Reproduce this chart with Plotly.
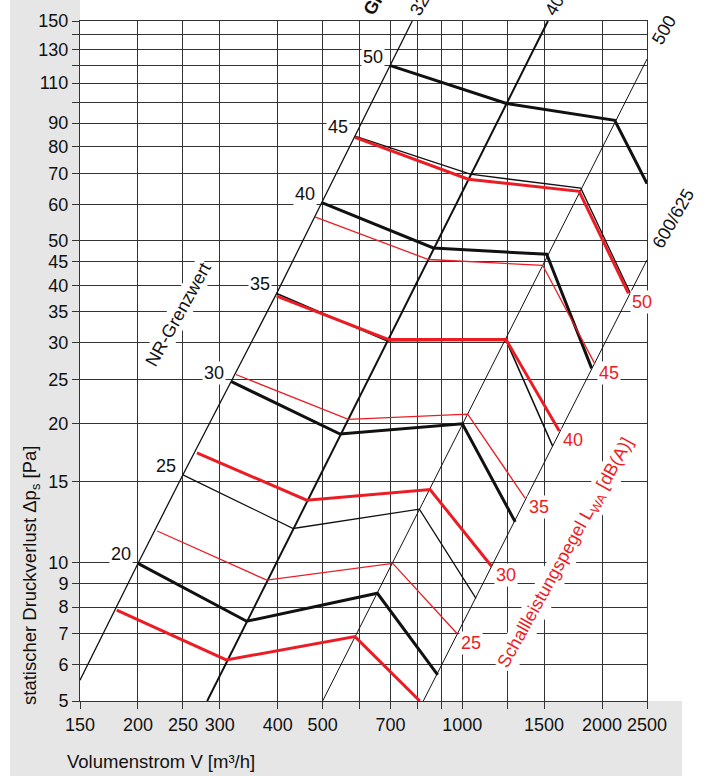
import numpy as np
import plotly.graph_objects as go

# ---------------- data ----------------
# labelled ticks and extra (unlabelled) grid lines
X_TICKS = [150, 200, 250, 300, 400, 500, 700, 1000, 1500, 2000, 2500]
X_MINOR = [600, 800, 900, 1250]
Y_TICKS = [5, 6, 7, 8, 9, 10, 15, 20, 25, 30, 35, 40, 45, 50, 60, 70, 80, 90,
           110, 130, 150]
Y_MINOR = [100, 120, 140]

# NR limit line (volume flow m³/h, pressure Pa)
nr_v = [150, 200, 250, 318, 398, 498, 587, 700, 780]
nr_p = [5.55, 9.95, 15.5, 24.7, 38.4, 60.5, 84.3, 120, 150]

# size lines
size_400_v = [282, 1529]
size_400_p = [5, 150]
size_500_v = [500, 2500]
size_500_p = [5, 124]
size_600_v = [824, 2500]
size_600_p = [5, 45.4]

# black curves, keyed by the NR level written at their start
black_levels = [20, 25, 30, 35, 40, 45, 50]
black_v = [
    [200, 343, 656, 885],
    [250, 432, 808, 1070],
    [318, 545, 1000, 1300],
    [398, 687, 1242, 1565],
    [498, 866, 1520, 1900],
    [587, 1040, 1800, 2300],
    [700, 1245, 2130, 2500],
]
black_p = [
    [9.95, 7.45, 8.57, 5.7],
    [15.5, 11.85, 13.05, 8.35],
    [24.7, 19.0, 20.0, 12.25],
    [38.4, 30.3, 30.4, 17.9],
    [60.5, 48.2, 46.7, 26.4],
    [84.3, 69.7, 65.0, 38.5],
    [120, 99.3, 91.3, 66.5],
]
black_width = [3.0, 1.3, 3.0, 1.6, 3.0, 1.3, 3.0]

# red curves, keyed by the sound power level written at their end
red_levels = [None, 25, 30, 35, 40, 45, 50]
red_v = [
    [180, 310, 587, 810],
    [220, 379, 708, 975],
    [268, 462, 852, 1157],
    [325, 568, 1027, 1365],
    [398, 692, 1242, 1618],
    [481, 845, 1490, 1930],
    [587, 1030, 1785, 2280],
]
red_p = [
    [7.88, 6.14, 6.9, 5.0],
    [11.7, 9.15, 9.95, 7.0],
    [17.3, 13.65, 14.4, 9.8],
    [25.6, 20.45, 21.0, 13.8],
    [37.9, 30.5, 30.5, 19.3],
    [56.3, 45.5, 44.2, 27.0],
    [83.8, 68.0, 64.0, 38.4],
]
red_width = [3.0, 1.3, 3.0, 1.3, 3.0, 1.3, 3.0]

# ---------------- styling ----------------
FIG_W, FIG_H = 703, 776
M_L, M_R, M_T, M_B = 80, 56, 21, 75
PLOT_W = FIG_W - M_L - M_R
PLOT_H = FIG_H - M_T - M_B
FONT = "Liberation Sans, Arial, Helvetica, sans-serif"
RED = "#ec1c24"
INK = "#111111"
GRID = "#333333"
FS = 18
FS_TITLE = 18.5


def px_x(px):
    return (px - M_L) / PLOT_W


def px_y(py):
    return (FIG_H - M_B - py) / PLOT_H


fig = go.Figure()


def add_line(v, p, color, width):
    fig.add_trace(go.Scatter(x=v, y=p, mode="lines",
                             line=dict(color=color, width=width),
                             hoverinfo="skip", showlegend=False))


# diagonal reference lines
add_line(nr_v, nr_p, INK, 1.3)
add_line(size_400_v, size_400_p, INK, 2.0)
add_line(size_500_v, size_500_p, INK, 1.0)
add_line(size_600_v, size_600_p, INK, 1.0)

for v, p, w in zip(black_v, black_p, black_width):
    add_line(v, p, INK, w)
for v, p, w in zip(red_v, red_p, red_width):
    add_line(v, p, RED, w)

annotations = []

# level numbers along the NR line
for lvl, v, p in zip(black_levels, black_v, black_p):
    annotations.append(dict(x=np.log10(v[0]), y=np.log10(p[0]), xref="x", yref="y",
                            text=str(lvl), showarrow=False, xanchor="right",
                            yanchor="middle", xshift=-5, yshift=9,
                            bgcolor="white", borderpad=1,
                            font=dict(size=FS, color=INK, family=FONT)))

# sound power levels at the ends of the red curves
for lvl, v, p in zip(red_levels, red_v, red_p):
    if lvl is None:
        continue
    annotations.append(dict(x=np.log10(v[-1]), y=np.log10(p[-1]), xref="x", yref="y",
                            text=str(lvl), showarrow=False, xanchor="left",
                            yanchor="middle", xshift=2, yshift=-9,
                            bgcolor="white", borderpad=1,
                            font=dict(size=FS, color=RED, family=FONT)))

# size labels at the upper ends of the diagonals
size_labels = [
    ("<b>Größe</b>", 381, -9),
    ("320", 422, 1),
    ("400", 557, 1),
    ("500", 664, 30),
    ("600/625", 673, 219),
]
for txt, cx, cy in size_labels:
    annotations.append(dict(x=px_x(cx), y=px_y(cy), xref="paper", yref="paper",
                            text=txt, showarrow=False, textangle=-60,
                            xanchor="center", yanchor="middle",
                            font=dict(size=FS, color=INK, family=FONT)))

annotations.append(dict(x=px_x(178), y=px_y(315), xref="paper", yref="paper",
                        text="NR-Grenzwert", showarrow=False, textangle=-61,
                        xanchor="center", yanchor="middle", bgcolor="white",
                        font=dict(size=FS, color=INK, family=FONT)))

annotations.append(dict(x=px_x(566), y=px_y(553), xref="paper", yref="paper",
                        text="Schallleistungspegel L<sub>WA</sub> [dB(A)]",
                        showarrow=False, textangle=-61,
                        xanchor="center", yanchor="middle", bgcolor="white",
                        font=dict(size=FS, color=RED, family=FONT)))

# axis titles
annotations.append(dict(x=px_x(65), y=px_y(762), xref="paper", yref="paper",
                        text="Volumenstrom V [m³/h]", showarrow=False,
                        xanchor="left", yanchor="middle",
                        font=dict(size=FS_TITLE, color=INK, family=FONT)))
annotations.append(dict(x=px_x(31), y=px_y(576), xref="paper", yref="paper",
                        text="statischer Druckverlust Δp<sub>s</sub> [Pa]",
                        showarrow=False, textangle=-90,
                        xanchor="center", yanchor="middle",
                        font=dict(size=FS_TITLE, color=INK, family=FONT)))

# grey frame behind the tick labels
shapes = [
    dict(type="rect", xref="paper", yref="paper", layer="below",
         x0=px_x(10), x1=0, y0=px_y(FIG_H), y1=px_y(0),
         fillcolor="#e6e6e6", line=dict(width=0)),
    dict(type="rect", xref="paper", yref="paper", layer="below",
         x0=px_x(10), x1=px_x(682), y0=px_y(FIG_H), y1=0,
         fillcolor="#e6e6e6", line=dict(width=0)),
]

axis_common = dict(type="log", tickmode="array", ticks="outside", ticklen=7,
                   tickwidth=1, tickcolor=GRID, showgrid=True, gridcolor=GRID,
                   gridwidth=1, showline=True, linecolor=GRID, linewidth=1,
                   mirror=True, zeroline=False,
                   tickfont=dict(size=FS, color=INK, family=FONT))
minor_common = dict(ticks="outside", ticklen=7, tickwidth=1, tickcolor=GRID,
                    showgrid=True, gridcolor=GRID, gridwidth=1)

fig.update_layout(
    width=FIG_W, height=FIG_H,
    margin=dict(l=M_L, r=M_R, t=M_T, b=M_B),
    paper_bgcolor="white", plot_bgcolor="white",
    font=dict(family=FONT, size=FS, color=INK),
    xaxis=dict(range=[np.log10(150), np.log10(2500)], tickvals=X_TICKS,
               ticktext=[str(v) for v in X_TICKS],
               minor=dict(tickvals=X_MINOR, **minor_common),
               **axis_common),
    yaxis=dict(range=[np.log10(5), np.log10(150)], tickvals=Y_TICKS,
               ticktext=[str(v) for v in Y_TICKS],
               minor=dict(tickvals=Y_MINOR, **minor_common),
               **axis_common),
    annotations=annotations,
    shapes=shapes,
    showlegend=False,
)

fig.write_html("out.html")
